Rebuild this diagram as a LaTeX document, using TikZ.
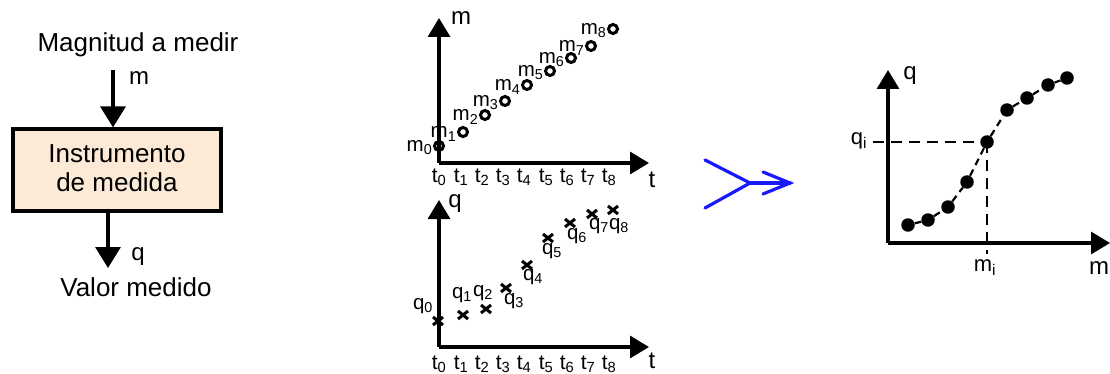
\documentclass[tikz,border=0pt]{standalone}
\usepackage{fontspec}
\setmainfont{Liberation Sans}
\usetikzlibrary{arrows.meta,backgrounds}
\newcommand{\idx}[2]{#1\textsubscript{#2}}
\begin{document}
\begin{tikzpicture}[x=1pt,y=-1pt,
  big/.style={font=\fontsize{26}{30}\selectfont, inner sep=0pt, align=center},
  axlab/.style={font=\fontsize{24}{26}\selectfont, inner sep=0pt},
  tlab/.style={font=\fontsize{21}{24}\selectfont, inner sep=0pt},
  ptlab/.style={font=\fontsize{20.5}{22}\selectfont, inner sep=0pt},
  flow/.style={line width=3.3pt, -{Triangle[length=21pt,width=25pt]}},
  axis/.style={line width=3.2pt, -{Triangle[length=19pt,width=22pt]}},
  ring/.style={circle, draw, line width=3pt, minimum size=9pt, inner sep=0pt},
  dotm/.style={circle, fill, minimum size=13.5pt, inner sep=0pt},
  guide/.style={line width=2.4pt, dash pattern=on 11pt off 7pt},
  link/.style={line width=2.2pt, dash pattern=on 7pt off 5pt},
  cross/.style={line width=3pt},
  blueline/.style={line width=3.2pt, draw={rgb,255:red,25;green,25;blue,255}, line cap=round, line join=miter}]
\useasboundingbox (0,0) rectangle (1110,374);

% ---- block: instrument ----
\node[big] (title) at (138,45) {Magnitud a medir};
\node[draw, line width=3.2pt, fill={rgb,255:red,252;green,234;blue,214},
      minimum width=208pt, minimum height=82pt, inner sep=0pt] (inst) at (117,170) {};
\node[big] (instxt) at (117,168) {Instrumento\\[-1pt]de medida};
\coordinate (inA) at (113,70);
\draw[flow] (inA) -- (inA |- inst.north);
\node[axlab] (mlab) at (139,78) {m};
\coordinate (outB) at (108,268);
\draw[flow] (inst.south -| outB) -- (outB);
\node[axlab] (qlab) at (138,257) {q};
\node[big] (valor) at (136,287) {Valor medido};

% ---- chart m(t) ----
\coordinate (O1) at (439,163);
\coordinate (Y1) at (439,18);
\coordinate (X1) at (649,163);
\draw[axis] (O1) -- (Y1);
\draw[axis] (O1) -- (X1);
\node[axlab] (m1ax) at (461,18) {m};
\node[axlab] (t1ax) at (652,180) {t};
\foreach \i/\x in {0/439,1/461,2/482,3/503,4/524,5/546,6/567,7/588,8/609}
  \node[tlab] (ta\i) at (\x,177) {\idx{t}{\i}};
\foreach \i/\x/\y in {0/439/146,1/463/132,2/485/115,3/505/101,4/527/85,5/550/71,6/571/58,7/591/46,8/613/29}{
  \node[ring] (m\i) at (\x,\y) {};
  \node[ptlab, anchor=east] (ml\i) at ([yshift=-2pt,xshift=-0.5pt]m\i.west) {\idx{m}{\i}};
}

% ---- chart q(t) ----
\coordinate (O2) at (439,347);
\coordinate (Y2) at (439,200);
\coordinate (X2) at (649,347);
\draw[axis] (O2) -- (Y2);
\draw[axis] (O2) -- (X2);
\node[axlab] (q2ax) at (455,204) {q};
\node[axlab] (t2ax) at (652,361) {t};
\foreach \i/\x in {0/439,1/461,2/482,3/503,4/524,5/546,6/567,7/588,8/609}
  \node[tlab] (tb\i) at (\x,364) {\idx{t}{\i}};
\foreach \i/\x/\y in {0/438/321,1/463/315,2/486/309,3/506/288,4/527/265,5/548/238,6/570/223,7/592/214,8/613/210}{
  \coordinate (q\i) at (\x,\y);
  \draw[cross] ([shift={(-5,-4)}]q\i) -- ([shift={(5,4)}]q\i)
               ([shift={(-5,4)}]q\i) -- ([shift={(5,-4)}]q\i);
}
\foreach \i/\x/\y in {0/423/306,1/462/295,2/483/293,3/514/301,4/533/277,5/552/251,6/577/236,7/599/226,8/619/226}
  \node[ptlab] (ql\i) at (\x,\y) {\idx{q}{\i}};

% ---- blue implication arrow ----
\coordinate (bA) at (705,160);
\coordinate (bV) at (750,183);
\coordinate (bB) at (705,208);
\coordinate (bT) at (790,183);
\coordinate (bH1) at (763,172);
\coordinate (bH2) at (763,194);
\draw[blueline] (bA) -- (bV) -- (bB);
\draw[blueline] (bV) -- (bT);
\draw[blueline] (bH1) -- (bT) -- (bH2);

% ---- characteristic q(m) ----
\coordinate (O3) at (888,243);
\coordinate (Y3) at (888,70);
\coordinate (X3) at (1110,243);
\draw[axis] (O3) -- (Y3);
\draw[axis] (O3) -- (X3);
\node[axlab] (q3ax) at (910,76) {q};
\node[axlab] (m3ax) at (1099,268) {m};
\foreach \i/\x/\y in {1/908/225,2/928/220,3/948/207,4/967/182,5/987/142,6/1007/110,7/1027/98,8/1048/85,9/1067/78}
  \node[dotm] (d\i) at (\x,\y) {};
\begin{scope}[on background layer]
  \draw[link] (d1) -- (d2) -- (d3) -- (d4) -- (d5) -- (d6) -- (d7) -- (d8) -- (d9);
\end{scope}
\coordinate (qiL) at (873,142);
\coordinate (miB) at (987,254);
\draw[guide] (qiL) -- (d5.center);
\draw[guide] (d5.center) -- (miB);
\node[ptlab, font=\fontsize{22}{24}\selectfont] (qi) at (859,141) {\idx{q}{i}};
\node[ptlab, font=\fontsize{22}{24}\selectfont] (mi) at (985,268) {\idx{m}{i}};
\end{tikzpicture}
\end{document}
